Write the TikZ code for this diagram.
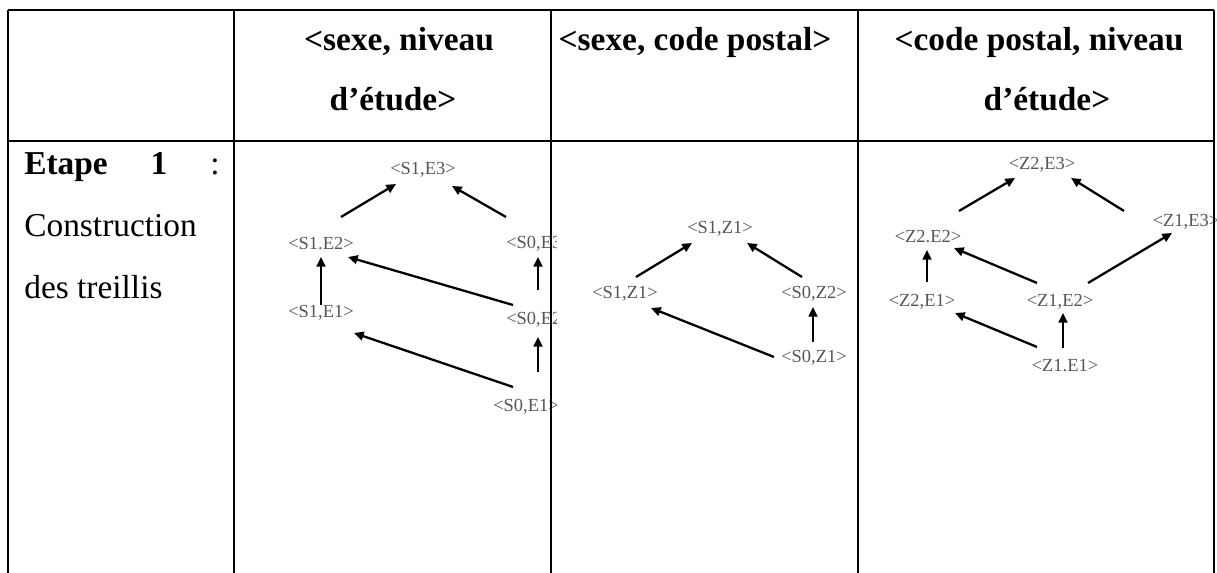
\documentclass[tikz,border=0pt]{standalone}
\usepackage{fontspec}
\usetikzlibrary{arrows.meta, calc}
\newfontfamily\tabfont{Liberation Serif}
\newfontfamily\lblfont{Liberation Serif}
\definecolor{labelgray}{RGB}{85,85,85}

\begin{document}
\begin{tikzpicture}[x=0.02cm, y=-0.02cm,
  grid/.style={line width=1.5pt, black},
  hdr/.style={font=\tabfont\bfseries\fontsize{19}{23}\selectfont, anchor=base, inner sep=0pt},
  body/.style={font=\tabfont\fontsize{19}{23}\selectfont, anchor=base west, inner sep=0pt},
  lbl/.style={font=\lblfont\fontsize{10.5}{12}\selectfont, text=labelgray, inner sep=0pt},
  up/.style={-{Triangle[length=5.5pt, width=5pt]}, line width=1.3pt}
]
\useasboundingbox (0,0) rectangle (1217,573);

% header row
\node[hdr] (h2a) at (399,51) {<sexe, niveau};
\node[hdr] (h2b) at (393,111) {d’étude>};
\node[hdr] (h3a) at (695,51) {<sexe, code postal>};
\node[hdr] (h4a) at (1039,51) {<code postal, niveau};
\node[hdr] (h4b) at (1047,111) {d’étude>};

% first column
\node[body, font=\tabfont\bfseries\fontsize{19}{23}\selectfont] (etape) at (24,175) {Etape};
\node[hdr] (num) at (159,175) {1};
\node[body, anchor=base] (colon) at (215,175) {:};
\node[body] (constr) at (24,237) {Construction};
\node[body] (treil) at (24,299) {des treillis};

% treillis <sexe, niveau d'etude>
\begin{scope}
\clip (234,141) rectangle (556,573);
\node[lbl] (s1e3) at (423,170) {<S1,E3>};
\node[lbl] (s1e2) at (321,244) {<S1.E2>};
\node[lbl] (s0e3) at (539,244) {<S0,E3>};
\node[lbl] (s1e1) at (321,313) {<S1,E1>};
\node[lbl] (s0e2) at (539,320) {<S0,E2>};
\node[lbl] (s0e1) at (526,407) {<S0,E1>};
\draw[up] ($(s1e2)+(20,-27)$) -- ($(s1e3)+(-27,14)$);
\draw[up] ($(s0e3)+(-33,-27)$) -- ($(s1e3)+(29,16)$);
\draw[up] ($(s1e1)+(0,-8)$) -- ($(s1e2)+(0,13)$);
\draw[up] ($(s0e2)+(-26,-15)$) -- ($(s1e2)+(27,13)$);
\draw[up] ($(s0e2)+(-1,-30)$) -- ($(s0e3)+(-1,13)$);
\draw[up] ($(s0e1)+(12,-35)$) -- ($(s0e2)+(-1,17)$);
\draw[up] ($(s0e1)+(-13,-20)$) -- ($(s1e1)+(33,20)$);
\end{scope}

% treillis <sexe, code postal>
\node[lbl] (s1z1t) at (720,229) {<S1,Z1>};
\node[lbl] (s1z1) at (625,294) {<S1,Z1>};
\node[lbl] (s0z2) at (814,294) {<S0,Z2>};
\node[lbl] (s0z1) at (814,358) {<S0,Z1>};
\draw[up] ($(s1z1)+(11,-17)$) -- ($(s1z1t)+(-28,14)$);
\draw[up] ($(s0z2)+(-12,-17)$) -- ($(s1z1t)+(27,14)$);
\draw[up] ($(s0z1)+(-1,-16)$) -- ($(s0z2)+(-1,13)$);
\draw[up] ($(s0z1)+(-40,-1)$) -- ($(s1z1)+(26,14)$);

% treillis <code postal, niveau d'etude>
\node[lbl] (z2e3) at (1042,165) {<Z2,E3>};
\node[lbl] (z2e2) at (928,237) {<Z2.E2>};
\node[lbl] (z1e3) at (1186,222) {<Z1,E3>};
\node[lbl] (z2e1) at (922,302) {<Z2,E1>};
\node[lbl] (z1e2) at (1060,302) {<Z1,E2>};
\node[lbl] (z1e1) at (1065,366) {<Z1.E1>};
\draw[up] ($(z2e2)+(31,-26)$) -- ($(z2e3)+(-27,13)$);
\draw[up] ($(z1e3)+(-62,-11)$) -- ($(z2e3)+(29,13)$);
\draw[up] ($(z2e1)+(5,-20)$) -- ($(z2e2)+(-1,13)$);
\draw[up] ($(z1e2)+(-23,-19)$) -- ($(z2e2)+(26,11)$);
\draw[up] ($(z1e2)+(28,-19)$) -- ($(z1e3)+(-14,11)$);
\draw[up] ($(z1e1)+(-28,-19)$) -- ($(z2e1)+(33,11)$);
\draw[up] ($(z1e1)+(-2,-18)$) -- ($(z1e2)+(3,11)$);

% table rules
\draw[grid] (8,10) -- (1214,10);
\draw[grid] (8,141) -- (1214,141);
\foreach \x in {8,234,551,858,1214}
  \draw[grid] (\x,10) -- (\x,573);
\end{tikzpicture}
\end{document}
